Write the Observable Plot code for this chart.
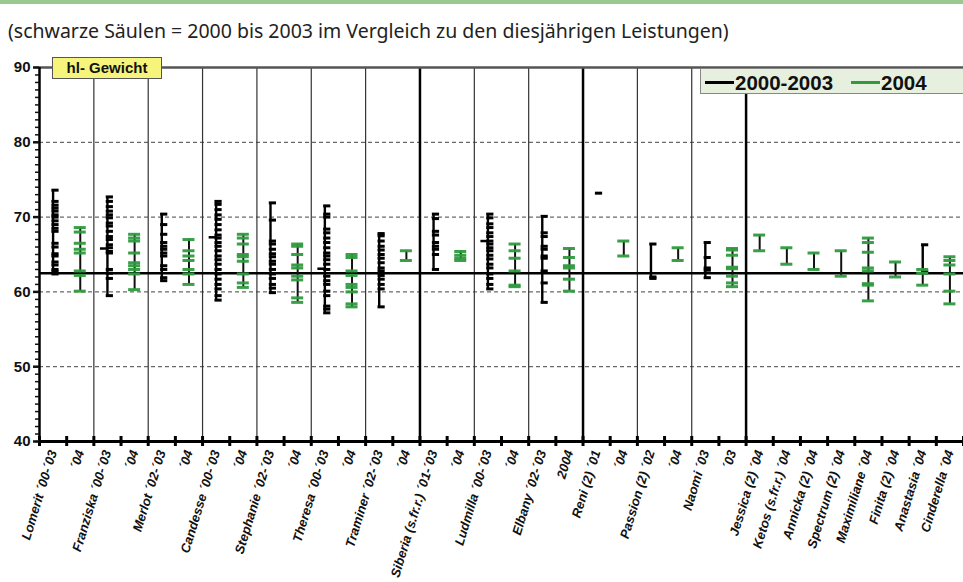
<!DOCTYPE html>
<html><head><meta charset="utf-8">
<script src="https://cdn.jsdelivr.net/npm/d3@7"></script>
<script src="https://cdn.jsdelivr.net/npm/@observablehq/plot@0.6"></script>
<style>
body{margin:0;background:#fff;width:963px;height:582px;overflow:hidden;position:relative;font-family:"Liberation Sans",Arial,sans-serif}
#topbar{position:absolute;left:0;top:0;width:963px;height:4px;background:#9ac98f}
#subtitle{position:absolute;left:8px;top:17px;font-family:"Noto Sans","Open Sans",sans-serif;font-size:19.5px;color:#222;white-space:nowrap}
#chart{position:absolute;left:0;top:50px}
#hl{position:absolute;left:52px;top:57px;width:108px;height:20px;background:#f7f47c;border:1px solid #555;font-weight:bold;font-size:15px;text-align:center;line-height:20px;color:#111}
#legend{position:absolute;left:700px;top:68px;width:262px;height:24px;background:#e7f0de;border:1px solid #888;font-weight:bold;font-size:20.5px;line-height:24px;white-space:nowrap;color:#111}
#legend .ln{display:inline-block;width:29px;height:3px;vertical-align:middle;margin-left:4px;margin-right:1px}
#legend .lt{vertical-align:middle}
svg g[aria-label="x-axis tick label"] text{font-style:italic;font-weight:bold}
</style>
</head><body>
<div id="topbar"></div>
<div id="subtitle">(schwarze Säulen = 2000 bis 2003 im Vergleich zu den diesjährigen Leistungen)</div>
<div id="chart"></div>
<div id="hl">hl- Gewicht</div>
<div id="legend"><span class="ln" style="background:#000"></span><span class="lt">2000-2003</span><span class="ln" style="background:#2e9b3f;margin-left:18px"></span><span class="lt">2004</span></div>
<script>
const labels = [
  "Lomerit ´00-´03", "´04", "Franziska ´00-´03", "´04", "Merlot ´02-´03", "´04",
  "Candesse ´00-´03", "´04", "Stephanie ´02-´03", "´04", "Theresa ´00-´03", "´04",
  "Traminer ´02-´03", "´04", "Siberia (s.fr.r.) ´01-´03", "´04", "Ludmilla ´00-´03", "´04",
  "Elbany ´02-´03", "2004", "Reni (2) ´01", "´04", "Passion (2) ´02", "´04",
  "Naomi ´03", "´03", "Jessica (2) ´04", "Ketos (s.fr.r.) ´04", "Annicka (2) ´04",
  "Spectrum (2) ´04", "Maximiliane ´04", "Finita (2) ´04", "Anastasia ´04", "Cinderella ´04"
];
// 2000-2003 values per category (black)
const blackVals = [
  [73.6,72.1,71.6,71.2,70.8,70.3,70.0,69.5,69.0,68.5,68.1,66.5,66.0,65.1,64.8,64.0,63.6,63.0,62.7,62.4], [],
  [72.7,72.1,71.4,70.8,70.3,69.9,69.2,68.8,68.1,67.4,67.0,66.3,65.9,65.4,65.2,63.0,62.5,61.8,59.5], [],
  [70.4,69.0,67.7,66.6,66.1,65.7,65.2,64.8,63.5,63.0,61.9,61.5], [],
  [72.1,71.7,71.0,70.3,69.7,69.0,68.3,67.6,67.2,66.6,66.1,65.5,64.8,64.3,63.7,63.0,62.4,61.7,61.0,60.4,59.5,58.9], [],
  [71.9,69.6,66.8,66.4,65.7,65.1,64.7,64.1,63.7,63.0,62.4,61.8,61.0,60.5,59.9], [],
  [71.5,70.4,70.0,68.4,67.9,67.2,66.6,65.9,65.2,64.8,64.3,63.7,63.0,62.1,61.5,61.0,60.1,59.5,58.1,57.7,57.2], [],
  [67.8,67.5,66.8,66.1,65.6,65.0,64.5,63.9,63.2,62.8,62.2,61.7,61.0,60.4,58.0], [],
  [70.4,69.8,68.1,67.6,66.6,66.1,65.7,65.0,63.0], [],
  [70.4,69.9,69.1,68.6,67.9,67.4,66.8,66.4,65.9,65.5,64.9,64.4,63.7,63.2,62.4,61.8,61.0,60.4], [],
  [70.1,67.9,67.4,66.1,65.7,64.8,64.5,62.8,61.2,58.6], [],
  [73.2], [],
  [66.4,62.0,61.8], [],
  [66.6,64.6,63.2,62.9,61.9], [],
  [], [], [], [], [], [], [66.3,62.7], []
];
// 2004 values per category (green)
const greenVals = [
  [], [68.6,68.0,66.5,65.7,65.2,62.8,62.2,60.1],
  [], [67.7,67.2,66.8,65.2,63.9,63.5,63.0,62.4,60.3],
  [], [67.0,65.5,64.8,64.2,63.0,62.4,61.0],
  [], [67.7,67.2,66.4,65.0,64.7,64.1,62.4,61.2,60.6],
  [], [66.4,66.1,65.0,63.6,63.2,62.1,61.6,59.2,58.6],
  [], [65.0,64.6,62.8,62.2,61.0,60.6,60.0,58.4,58.0],
  [], [65.5,64.2],
  [], [65.4,64.9,64.5,64.2],
  [], [66.4,65.5,64.5,62.8,60.9,60.7],
  [], [65.8,64.6,63.5,63.2,61.7,60.1],
  [], [66.8,64.8],
  [], [65.9,64.2],
  [], [65.8,65.6,64.9,63.3,63.1,62.1,61.2,60.7],
  [67.6,65.5], [65.9,63.7], [65.2,63.0], [65.5,62.1],
  [67.2,66.6,65.3,63.2,62.8,61.1,60.9,58.8], [64.0,62.0], [63.0,62.5,60.9],
  [64.7,64.2,63.6,62.4,60.1,58.4]
];
const blackMeans = [[2, 65.8], [6, 67.3], [10, 63.1], [16, 66.8]];
const refLine = [62.5];
const gridValues = [50, 60, 70, 80];
const yTicks = [40, 50, 60, 70, 80, 90];
const minorTicks = d3.range(40, 91, 1);
const thinSeparators = [2, 4, 6, 8, 10, 12, 16, 18, 22, 24];
const thickSeparators = [14, 20, 26];
const boundaries = d3.range(0, 35);

const GREEN = "#2e9b3f";
const blackPts = [], greenPts = [], stems = [], gStems = [];
blackVals.forEach((vals, i) => {
  vals.forEach(v => blackPts.push({i, v}));
  if (vals.length) stems.push({i, lo: d3.min(vals), hi: d3.max(vals)});
});
greenVals.forEach((vals, i) => {
  vals.forEach(v => greenPts.push({i, v}));
  if (vals.length) gStems.push({i, lo: d3.min(vals), hi: d3.max(vals)});
});
const cx = d => d.i + 0.5;

const chart = Plot.plot({
  width: 963,
  height: 532,
  marginTop: 17,
  marginBottom: 141,
  marginLeft: 39,
  marginRight: 0,
  x: {type: "linear", domain: [0, 34]},
  y: {type: "linear", domain: [40, 90]},
  style: {fontFamily: "'Liberation Sans', Arial, sans-serif", background: "transparent", overflow: "visible", color: "#111"},
  marks: [
    Plot.ruleY(gridValues, {stroke: "#444", strokeWidth: 1, strokeDasharray: "4,3"}),
    Plot.ruleX(thinSeparators, {stroke: "#333", strokeWidth: 1.2}),
    Plot.ruleX(thickSeparators, {stroke: "#000", strokeWidth: 2.5}),
    Plot.ruleY([90], {stroke: "#555", strokeWidth: 2.5}),
    Plot.ruleY(refLine, {stroke: "#000", strokeWidth: 2.5}),
    // black series
    Plot.ruleX(stems, {x: cx, y1: "lo", y2: "hi", stroke: "#000", strokeWidth: 2.4}),
    Plot.ruleY(blackPts, {y: "v", x1: cx, x2: cx, insetLeft: -1.2, insetRight: -6, stroke: "#000", strokeWidth: 3}),
    Plot.ruleY(blackMeans, {y: d => d[1], x1: d => d[0] + 0.5, x2: d => d[0] + 0.5, insetLeft: -7, insetRight: 0, stroke: "#000", strokeWidth: 2.5}),
    // green series
    Plot.ruleX(gStems, {x: cx, y1: "lo", y2: "hi", stroke: "#111", strokeWidth: 2}),
    Plot.ruleY(greenPts, {y: "v", x1: cx, x2: cx, insetLeft: -6, insetRight: -6, stroke: GREEN, strokeWidth: 3, strokeOpacity: 0.95}),
    // axes
    Plot.ruleX([0], {stroke: "#000", strokeWidth: 2.5}),
    Plot.ruleY([40], {stroke: "#000", strokeWidth: 3}),
    Plot.ruleX(boundaries, {x: d => d, y1: 40, y2: 40, insetTop: -5, insetBottom: -5, stroke: "#000", strokeWidth: 3}),
    Plot.axisY(minorTicks, {tickSize: 4, tickFormat: () => "", strokeWidth: 1.5}),
    Plot.axisY(yTicks, {tickSize: 6, tickPadding: 3, strokeWidth: 2.5, fontSize: 15, fontWeight: "bold"}),
    Plot.axisX(d3.range(34).map(i => i + 0.5), {tickFormat: d => labels[Math.floor(d)], tickRotate: -73, tickSize: 0, tickPadding: 9, fontSize: 13, fontWeight: "bold", fontStyle: "italic"})
  ]
});
document.getElementById("chart").appendChild(chart);
</script>
</body></html>
